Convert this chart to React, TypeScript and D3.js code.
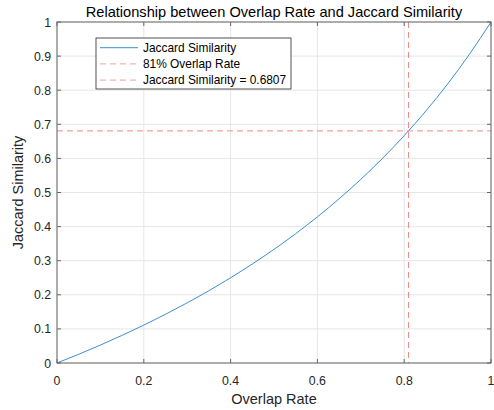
import * as d3 from 'd3';
import React, { useEffect, useRef } from 'react';

// values
const overlapRates = [0, 0.05, 0.1, 0.15, 0.2, 0.25, 0.3, 0.35, 0.4, 0.45, 0.5, 0.55, 0.6, 0.65, 0.7, 0.75, 0.8, 0.85, 0.9, 0.95, 1];
const jaccardValues = [0, 0.0256, 0.0526, 0.0811, 0.1111, 0.1429, 0.1765, 0.2121, 0.25, 0.2903, 0.3333, 0.3793, 0.4286, 0.4815, 0.5385, 0.6, 0.6667, 0.7391, 0.8182, 0.9048, 1];
const markRate = 0.81;
const markJaccard = 0.6807;
const xTicks = [0, 0.2, 0.4, 0.6, 0.8, 1];
const yTicks = [0, 0.1, 0.2, 0.3, 0.4, 0.5, 0.6, 0.7, 0.8, 0.9, 1];
const legendLabels = ['Jaccard Similarity', '81% Overlap Rate', 'Jaccard Similarity = 0.6807'];

const W = 494;
const H = 410;
const FONT = '"Liberation Sans", Arial, sans-serif';

const App: React.FC = () => {
  const svgRef = useRef<SVGSVGElement>(null);

  useEffect(() => {
    const margin = { top: 22, right: 3, bottom: 47, left: 57 };
    const width = W - margin.left - margin.right;
    const height = H - margin.top - margin.bottom;

    const svg = d3.select(svgRef.current);
    svg.selectAll('*').remove();

    const chart = svg.append('g').attr('transform', `translate(${margin.left},${margin.top})`);

    const x = d3.scaleLinear().domain([0, 1]).range([0, width]);
    const y = d3.scaleLinear().domain([0, 1]).range([height, 0]);

    // grid
    chart
      .selectAll('.gx')
      .data(xTicks)
      .enter()
      .append('line')
      .attr('x1', (d) => x(d))
      .attr('x2', (d) => x(d))
      .attr('y1', 0)
      .attr('y2', height)
      .attr('stroke', '#e6e6e6');
    chart
      .selectAll('.gy')
      .data(yTicks)
      .enter()
      .append('line')
      .attr('x1', 0)
      .attr('x2', width)
      .attr('y1', (d) => y(d))
      .attr('y2', (d) => y(d))
      .attr('stroke', '#e6e6e6');

    const points = overlapRates.map((r, i) => ({ r, j: jaccardValues[i] }));
    const line = d3
      .line<{ r: number; j: number }>()
      .x((d) => x(d.r))
      .y((d) => y(d.j))
      .curve(d3.curveMonotoneX);

    chart
      .append('path')
      .datum(points)
      .attr('fill', 'none')
      .attr('stroke', '#3a8fd2')
      .attr('stroke-width', 1)
      .attr('d', line);

    const red = '#f08a8a';
    chart
      .append('line')
      .attr('x1', x(markRate))
      .attr('x2', x(markRate))
      .attr('y1', 0)
      .attr('y2', height)
      .attr('stroke', red)
      .attr('stroke-dasharray', '6,4');
    chart
      .append('line')
      .attr('x1', 0)
      .attr('x2', width)
      .attr('y1', y(markJaccard))
      .attr('y2', y(markJaccard))
      .attr('stroke', red)
      .attr('stroke-dasharray', '6,4');

    // axes box + inward ticks
    const axisColor = '#666';
    chart
      .append('rect')
      .attr('x', 0)
      .attr('y', 0)
      .attr('width', width)
      .attr('height', height)
      .attr('fill', 'none')
      .attr('stroke', axisColor);

    const tl = 4;
    xTicks.forEach((t) => {
      chart.append('line').attr('x1', x(t)).attr('x2', x(t)).attr('y1', height).attr('y2', height - tl).attr('stroke', axisColor);
      chart.append('line').attr('x1', x(t)).attr('x2', x(t)).attr('y1', 0).attr('y2', tl).attr('stroke', axisColor);
    });
    yTicks.forEach((t) => {
      chart.append('line').attr('x1', 0).attr('x2', tl).attr('y1', y(t)).attr('y2', y(t)).attr('stroke', axisColor);
      chart.append('line').attr('x1', width).attr('x2', width - tl).attr('y1', y(t)).attr('y2', y(t)).attr('stroke', axisColor);
    });

    chart
      .selectAll('.xl')
      .data(xTicks)
      .enter()
      .append('text')
      .attr('x', (d) => x(d))
      .attr('y', height + 21.5)
      .attr('text-anchor', 'middle')
      .style('font-size', '12.3px')
      .attr('fill', '#262626')
      .text((d) => String(d));
    chart
      .selectAll('.yl')
      .data(yTicks)
      .enter()
      .append('text')
      .attr('x', -6)
      .attr('y', (d) => y(d) + 4.5)
      .attr('text-anchor', 'end')
      .style('font-size', '12.3px')
      .attr('fill', '#262626')
      .text((d) => String(d));

    // titles
    svg
      .append('text')
      .attr('x', margin.left + width / 2)
      .attr('y', 17)
      .attr('text-anchor', 'middle')
      .style('font-size', '14.6px')
      .attr('fill', '#000')
      .text('Relationship between Overlap Rate and Jaccard Similarity');
    svg
      .append('text')
      .attr('x', margin.left + width / 2)
      .attr('y', 404)
      .attr('text-anchor', 'middle')
      .style('font-size', '14.5px')
      .attr('fill', '#262626')
      .text('Overlap Rate');
    svg
      .append('text')
      .attr('transform', `translate(23,${margin.top + height / 2}) rotate(-90)`)
      .attr('text-anchor', 'middle')
      .style('font-size', '14.5px')
      .attr('fill', '#262626')
      .text('Jaccard Similarity');

    // legend
    const lg = svg.append('g').attr('transform', 'translate(96,38)');
    lg.append('rect').attr('width', 195).attr('height', 51).attr('fill', '#fff').attr('stroke', '#262626').attr('stroke-width', 0.8);
    const legendColors = ['#3a8fd2', '#f4a0a0', '#f4a0a0'];
    legendLabels.forEach((lab, i) => {
      const yy = 9.7 + i * 16.2;
      lg.append('line')
        .attr('x1', 4)
        .attr('x2', 42)
        .attr('y1', yy)
        .attr('y2', yy)
        .attr('stroke', legendColors[i])
        .attr('stroke-dasharray', i === 0 ? null : '6,4');
      lg.append('text')
        .attr('x', 47)
        .attr('y', yy + 4.3)
        .style('font-size', '11.9px')
        .attr('fill', '#000')
        .text(lab);
    });
  }, []);

  return <svg ref={svgRef} width={W} height={H} style={{ position: 'absolute', left: 0, top: 0, fontFamily: FONT }} />;
};

export default App;
